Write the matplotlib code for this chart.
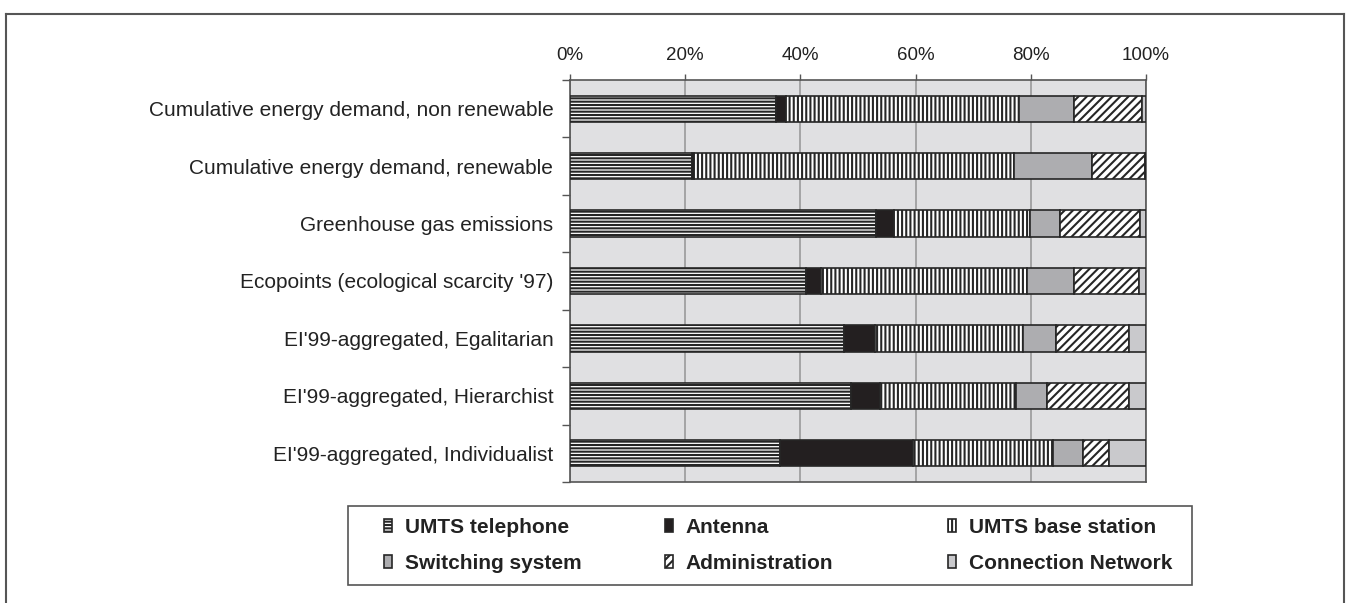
import matplotlib.pyplot as plt
import numpy as np
from matplotlib.lines import Line2D
from matplotlib.patches import Rectangle
from matplotlib.ticker import FuncFormatter

plt.rcParams['font.family'] = ['Liberation Sans', 'DejaVu Sans']
plt.rcParams['hatch.linewidth'] = 1.5

# data (percent share of each component)
categories = [
    'Cumulative energy demand, non renewable',
    'Cumulative energy demand, renewable',
    'Greenhouse gas emissions',
    "Ecopoints (ecological scarcity '97)",
    "EI'99-aggregated, Egalitarian",
    "EI'99-aggregated, Hierarchist",
    "EI'99-aggregated, Individualist",
]
telephone = [35.7, 21.1, 53.1, 40.9, 47.5, 48.8, 36.4]
antenna = [1.8, 0.4, 3.2, 2.6, 5.4, 5.0, 23.2]
base_station = [40.5, 55.5, 23.5, 35.8, 25.7, 23.7, 24.3]
switching = [9.5, 13.6, 5.3, 8.2, 5.7, 5.3, 5.1]
administration = [11.8, 9.2, 13.9, 11.3, 12.8, 14.3, 4.6]
connection = [0.7, 0.2, 1.0, 1.2, 2.9, 2.9, 6.4]

series = [
    ('UMTS telephone', telephone, 'white', '-----'),
    ('Antenna', antenna, '#231f20', None),
    ('UMTS base station', base_station, 'white', '||||'),
    ('Switching system', switching, '#adadb0', None),
    ('Administration', administration, 'white', '////'),
    ('Connection Network', connection, '#c9c9cc', None),
]

W, H = 1347, 603
fig = plt.figure(figsize=(W / 100, H / 100), dpi=100)
ax = fig.add_axes([570 / W, 1 - 482 / H, 576 / W, 402 / H])
ax.set_facecolor('#e0e0e2')

y = np.arange(len(categories))
left = np.zeros(len(categories))
handles = []
for name, vals, color, hatch in series:
    b = ax.barh(y, vals, left=left, height=0.46, color=color,
                edgecolor='#262626', linewidth=1.2, hatch=hatch,
                label=name, zorder=3)
    handles.append(b)
    left += np.array(vals)

ax.set_xlim(0, 100)
ax.set_ylim(len(categories) - 0.5, -0.5)
ax.set_xticks(np.arange(0, 101, 20))
ax.xaxis.set_major_formatter(FuncFormatter(lambda v, p: f'{v:.0f}%'))
ax.xaxis.tick_top()
ax.tick_params(axis='x', direction='out', length=4, width=1, color='#555555',
               labelsize=13.5, labelcolor='#222222', pad=7.5)
ax.grid(axis='x', color='#9a9a9a', linewidth=1.2, zorder=1)

ax.set_yticks(y)
ax.set_yticklabels(categories, fontsize=15, color='#222222')
ax.tick_params(axis='y', which='major', length=0, pad=12)
ax.set_yticks(np.arange(-0.5, len(categories)), minor=True)
ax.tick_params(axis='y', which='minor', length=6, width=1, color='#555555')

for s in ax.spines.values():
    s.set_color('#555555')
    s.set_linewidth(1.2)

# legend: box plus three columns of two entries each
fig.add_artist(Rectangle((348 / W, 1 - 585 / H), 844 / W, 79 / H,
                         transform=fig.transFigure, fill=False,
                         edgecolor='#555555', linewidth=1.2))
col_x = [384, 665, 948]
for c, x0 in enumerate(col_x):
    idx = [c, c + 3]
    fig.legend([handles[i] for i in idx], [series[i][0] for i in idx],
               loc='upper left', bbox_to_anchor=(x0 / W, 1 - 518 / H),
               prop={'weight': 'bold', 'size': 15}, frameon=False,
               handlelength=0.4, handleheight=0.55, handletextpad=0.6,
               borderpad=0, borderaxespad=0, labelspacing=0.82,
               labelcolor='#222222')

# outer frame of the figure panel
frame_kw = dict(color='#555555', linewidth=1.5, transform=fig.transFigure)
fig.add_artist(Line2D([6 / W, 6 / W], [0, 1 - 14 / H], **frame_kw))
fig.add_artist(Line2D([1344 / W, 1344 / W], [0, 1 - 14 / H], **frame_kw))
fig.add_artist(Line2D([6 / W, 1344 / W], [1 - 14 / H, 1 - 14 / H], **frame_kw))

fig.savefig('out.png', dpi=100)
